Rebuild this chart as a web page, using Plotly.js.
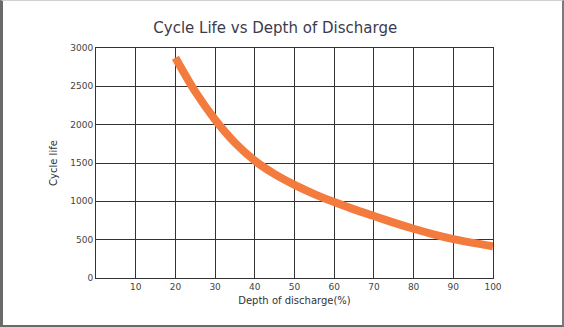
<!DOCTYPE html>
<html>
<head>
<meta charset="utf-8">
<script src="https://cdn.plot.ly/plotly-3.0.1.min.js"></script>
<style>
  html, body { margin: 0; padding: 0; background: #fff; }
  #chart { width: 564px; height: 327px; box-sizing: border-box; position: relative; }
  #frame { position: absolute; left: 0; top: 0; width: 564px; height: 327px; box-sizing: border-box;
           border-left: 3px solid #6a6a6a; border-top: 1px solid #cfcfcf; border-right: 2px solid #7a7a7a; border-bottom: 2px solid #6a6a6a; pointer-events: none; }
</style>
</head>
<body>
<div id="chart"></div>
<div id="frame"></div>
<script>
const depthOfDischarge = [20, 25, 30, 35, 40, 45, 50, 55, 60, 65, 70, 75, 80, 85, 90, 95, 100];
const cycleLife = [2873, 2430, 2065, 1765, 1530, 1355, 1215, 1095, 990, 895, 808, 722, 642, 570, 508, 458, 415];
const xTicks = [10, 20, 30, 40, 50, 60, 70, 80, 90, 100];
const yTicks = [0, 500, 1000, 1500, 2000, 2500, 3000];

const tickFont = { family: "DejaVu Sans, sans-serif", size: 9, color: "#444" };

Plotly.newPlot("chart", [{
  x: depthOfDischarge,
  y: cycleLife,
  mode: "lines",
  line: { color: "#F47B3E", width: 8, shape: "spline", smoothing: 0.8 },
  hoverinfo: "skip"
}], {
  width: 564, height: 327,
  margin: { l: 96, r: 71, t: 48, b: 49, pad: 0 },
  paper_bgcolor: "rgba(0,0,0,0)",
  plot_bgcolor: "#fff",
  showlegend: false,
  title: { text: "Cycle Life vs Depth of Discharge", x: 0.488, xanchor: "center", y: 0.915, yanchor: "middle",
           font: { family: "DejaVu Sans, sans-serif", size: 15, color: "#3b3b4d" } },
  xaxis: {
    range: [0, 100], tickvals: xTicks, ticktext: xTicks.map(String),
    showgrid: true, gridcolor: "#333", gridwidth: 1,
    showline: true, linecolor: "#333", linewidth: 1, mirror: true,
    zeroline: false, ticks: "", ticklen: 0, tickfont: tickFont,
    title: { text: "Depth of discharge(%)", standoff: 6, font: { family: "DejaVu Sans, sans-serif", size: 10, color: "#333" } }
  },
  yaxis: {
    range: [0, 3000], tickvals: yTicks, ticktext: yTicks.map(String),
    showgrid: true, gridcolor: "#333", gridwidth: 1,
    showline: true, linecolor: "#333", linewidth: 1, mirror: true,
    zeroline: false, ticks: "", ticklen: 6, tickcolor: "rgba(0,0,0,0)", tickfont: tickFont,
    title: { text: "Cycle life", standoff: 10, font: { family: "DejaVu Sans, sans-serif", size: 10, color: "#333" } }
  }
}, { staticPlot: true, displayModeBar: false });
</script>
</body>
</html>
